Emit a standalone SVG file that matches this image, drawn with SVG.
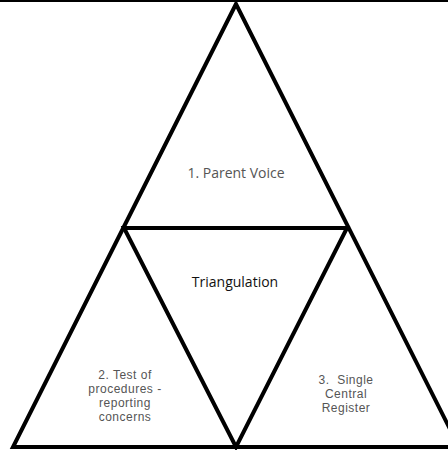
<svg xmlns="http://www.w3.org/2000/svg" width="448" height="450" viewBox="0 0 448 450">
<style>
.ln{stroke:#000;stroke-width:4;fill:none;stroke-linejoin:miter}
.s{font-family:"Open Sans","Liberation Sans",sans-serif;font-size:14px;fill:#555;text-anchor:middle}
.t{font-family:"Liberation Sans",Arial,sans-serif;font-size:12px;letter-spacing:0.5px;fill:#555;text-anchor:middle}
.b{font-family:"Open Sans","Liberation Sans",sans-serif;font-size:14px;fill:#111;text-anchor:middle}
</style>
<rect width="448" height="450" fill="#fff"/>
<g id="connectors">
<line x1="0" y1="1" x2="448" y2="1" stroke="#000" stroke-width="2"/>
<polygon class="ln" points="236,4 13,447 459,447"/>
<polygon class="ln" points="124,228 347,228 236,447"/>
</g>
<g id="parent-voice"><text class="s" x="236" y="178">1. Parent Voice</text></g>
<g id="triangulation"><text class="b" x="235" y="287">Triangulation</text></g>
<g id="test-of-procedures">
<text class="t" x="125" y="379">2. Test of</text>
<text class="t" x="125" y="393">procedures -</text>
<text class="t" x="125" y="407">reporting</text>
<text class="t" x="125" y="421">concerns</text>
</g>
<g id="single-central-register">
<text class="t" x="346" y="384" xml:space="preserve">3.  Single</text>
<text class="t" x="346" y="398">Central</text>
<text class="t" x="346" y="412">Register</text>
</g>
</svg>
